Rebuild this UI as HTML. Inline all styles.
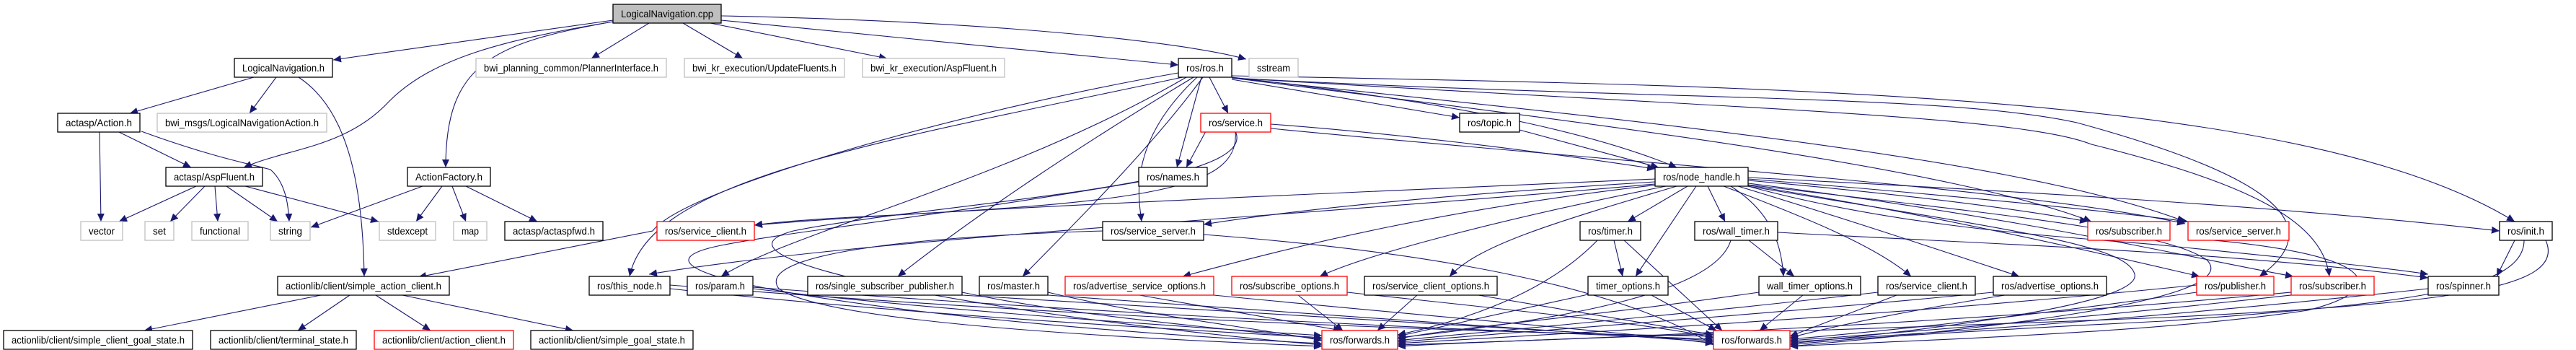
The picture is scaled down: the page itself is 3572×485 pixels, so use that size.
<!DOCTYPE html>
<html><head><meta charset="utf-8"><style>
html,body{margin:0;padding:0;background:#fff;}
svg{display:block;}
text{font-family:"Liberation Sans",sans-serif;font-size:14px;fill:#000;}
.n{fill:#fff;stroke:#000;stroke-width:1.3;}
.g{fill:#fff;stroke:#bfbfbf;stroke-width:1.3;}
.r{fill:#fff;stroke:#ff0000;stroke-width:1.3;}
.e{fill:none;stroke:#191970;stroke-width:1.1;}
</style></head><body>
<svg width="3572" height="485" viewBox="0 0 3572 485" xmlns="http://www.w3.org/2000/svg">
<defs><marker id="a" markerUnits="userSpaceOnUse" markerWidth="12" markerHeight="10" refX="11" refY="5" orient="auto"><path d="M0,0 L11,5 L0,10 z" fill="#191970"/></marker></defs>
<g class="edges" marker-end="url(#a)">
<!-- cpp edges -->
<path class="e" d="M850,28 L462,83"/>
<path class="e" d="M850,30 C700,55 600,80 540,140 C480,205 400,205 338,232"/>
<path class="e" d="M850,30 C680,60 618,90 618,232"/>
<path class="e" d="M900,32 L820,81"/>
<path class="e" d="M947,32 L1030,81"/>
<path class="e" d="M985,32 L1230,81"/>
<path class="e" d="M1000,28 L1634,90"/>
<path class="e" d="M1000,22 C1400,30 1650,60 1728,82"/>
<!-- LogicalNavigation.h -->
<path class="e" d="M352,107 L180,157"/>
<path class="e" d="M383,107 L346,157"/>
<path class="e" d="M414,107 C480,150 503,250 505,383"/>
<!-- Action.h -->
<path class="e" d="M138,182 L140,307"/>
<path class="e" d="M163,182 L265,232"/>
<path class="e" d="M196,182 C300,220 360,230 375,235 C398,255 400,290 401,307"/>
<!-- AspFluent -->
<path class="e" d="M272,258 L165,307"/>
<path class="e" d="M284,258 L236,307"/>
<path class="e" d="M298,258 L302,307"/>
<path class="e" d="M314,258 L385,307"/>
<path class="e" d="M340,258 L525,307"/>
<!-- ActionFactory -->
<path class="e" d="M586,258 L431,315"/>
<path class="e" d="M613,258 L577,307"/>
<path class="e" d="M627,258 L646,307"/>
<path class="e" d="M646,258 L745,307"/>
<!-- simple_action_client -->
<path class="e" d="M445,409 L200,458"/>
<path class="e" d="M485,409 L413,458"/>
<path class="e" d="M521,409 L597,458"/>
<path class="e" d="M558,409 L795,458"/>
<!-- ros.h -->
<path class="e" d="M1634,101 C1350,150 950,260 905,320 L580,384"/>
<path class="e" d="M1640,107 C1200,200 900,250 873,383"/>
<path class="e" d="M1645,107 C1400,250 1100,320 1000,383"/>
<path class="e" d="M1655,107 C1500,200 1350,300 1245,383"/>
<path class="e" d="M1668,107 C1600,200 1500,300 1418,383"/>
<path class="e" d="M1660,107 C1560,200 1580,280 1583,307"/>
<path class="e" d="M1666,107 L1632,232"/>
<path class="e" d="M1677,107 L1703,157"/>
<path class="e" d="M1708,110 L2024,163"/>
<path class="e" d="M1708,107 C2000,140 2200,180 2325,232"/>
<path class="e" d="M1708,105 C2500,120 3200,130 3487,307"/>
<path class="e" d="M1708,108 C2200,170 2700,230 2900,307"/>
<path class="e" d="M1708,108 C2300,170 2800,220 3030,307"/>
<path class="e" d="M1708,108 C2300,140 2700,130 2880,170 C3100,230 3250,300 3133,383"/>
<path class="e" d="M1708,108 C2400,150 2800,160 2900,200 C3100,250 3220,300 3230,383"/>
<!-- service.h -->
<path class="e" d="M1672,182 L1645,232"/>
<path class="e" d="M1713,182 C1720,260 1600,280 1200,300 C1100,305 1060,310 1046,312"/>
<path class="e" d="M1762,172 C2000,190 2200,220 2295,234"/>
<path class="e" d="M1762,178 C2300,230 2800,260 3030,310"/>
<!-- topic -->
<path class="e" d="M2107,180 L2300,232"/>
<!-- node_handle -->
<path class="e" d="M2295,248 C1800,270 1300,290 1046,312"/>
<path class="e" d="M2295,252 C2000,270 1800,290 1669,311"/>
<path class="e" d="M2340,258 L2257,307"/>
<path class="e" d="M2368,258 L2392,307"/>
<path class="e" d="M2352,258 L2268,383"/>
<path class="e" d="M2400,258 C2450,290 2470,330 2473,383"/>
<path class="e" d="M2325,258 C2150,310 2050,340 2010,383"/>
<path class="e" d="M2310,258 C2100,300 1900,350 1830,383"/>
<path class="e" d="M2300,256 C2000,290 1800,340 1640,383"/>
<path class="e" d="M2390,258 C2500,300 2600,340 2650,383"/>
<path class="e" d="M2410,258 C2550,300 2700,350 2800,383"/>
<path class="e" d="M2420,256 C2700,300 2950,360 3050,383"/>
<path class="e" d="M2424,254 C2800,300 3050,360 3180,383"/>
<path class="e" d="M2424,250 C2650,270 2800,290 2895,307"/>
<path class="e" d="M2424,248 C2700,270 2900,290 3034,307"/>
<path class="e" d="M2424,246 C2900,270 3200,290 3466,320"/>
<path class="e" d="M2424,258 C2650,320 2900,330 3000,340 C3200,360 3300,370 3367,380"/>
<path class="e" d="M2295,255 C1800,300 1200,330 900,380"/>
<!-- init -->
<path class="e" d="M3487,333 L3462,383"/>
<!-- timer / wall timer -->
<path class="e" d="M2238,333 L2250,383"/>
<path class="e" d="M2252,333 L2388,458"/>
<path class="e" d="M2215,333 C2150,400 2050,440 1938,464"/>
<path class="e" d="M2425,333 L2488,383"/>
<path class="e" d="M2400,333 C2380,400 2200,440 1938,468"/>
<path class="e" d="M2465,322 C2800,340 3100,350 3367,385"/>
<!-- to forwards A (1833-1938) -->
<path class="e" d="M929,400 C1300,440 1700,460 1833,468"/>
<path class="e" d="M1044,400 C1300,430 1600,450 1833,465"/>
<path class="e" d="M1334,405 C1500,440 1700,455 1833,470"/>
<path class="e" d="M1453,405 C1600,440 1750,455 1833,472"/>
<path class="e" d="M1580,409 L1860,458"/>
<path class="e" d="M1800,409 L1862,458"/>
<path class="e" d="M1965,409 L1910,458"/>
<path class="e" d="M2202,408 L1938,466"/>
<path class="e" d="M2439,405 C2200,440 2000,455 1938,470"/>
<path class="e" d="M2604,405 C2300,440 2050,460 1938,472"/>
<path class="e" d="M2764,405 C2400,440 2100,460 1938,474"/>
<path class="e" d="M3046,395 C2600,440 2200,460 1938,476"/>
<path class="e" d="M3177,405 C2700,450 2200,470 1938,478"/>
<path class="e" d="M3530,333 C3560,400 3400,420 3000,440 C2500,460 2100,470 1938,480"/>
<path class="e" d="M1579,252 C1300,300 1100,320 1000,340 C800,380 1300,450 1833,476"/>
<path class="e" d="M1713,182 C1750,260 1300,280 1100,320 C950,360 1400,440 1833,478"/>
<path class="e" d="M1529,320 C1200,330 1050,360 1080,400 C1150,450 1600,470 1833,480"/>
<!-- to forwards B (2376-2482) -->
<path class="e" d="M929,395 C1500,440 2000,460 2376,466"/>
<path class="e" d="M1044,398 C1600,440 2100,460 2376,470"/>
<path class="e" d="M1334,409 C1800,440 2200,460 2376,472"/>
<path class="e" d="M1453,409 C1900,440 2200,460 2376,474"/>
<path class="e" d="M1683,409 C2000,440 2250,460 2376,476"/>
<path class="e" d="M1868,405 C2100,430 2300,450 2376,468"/>
<path class="e" d="M2050,409 L2376,464"/>
<path class="e" d="M2290,409 L2380,458"/>
<path class="e" d="M2500,409 L2440,458"/>
<path class="e" d="M2630,409 L2482,466"/>
<path class="e" d="M2780,409 C2650,430 2550,450 2482,468"/>
<path class="e" d="M3046,405 C2800,440 2600,460 2482,470"/>
<path class="e" d="M3177,409 C2900,440 2650,460 2482,472"/>
<path class="e" d="M3367,400 C3000,440 2700,460 2482,474"/>
<path class="e" d="M3500,333 C3500,400 3350,420 3000,445 C2700,460 2550,470 2482,478"/>
<path class="e" d="M1669,325 C2000,350 2250,400 2376,478"/>
<path class="e" d="M2424,256 C2800,300 3000,320 3060,360 C3120,420 2700,460 2482,480"/>
<path class="e" d="M2424,258 C2800,320 2950,340 2960,380 C2970,420 2700,455 2482,476"/>
<path class="e" d="M3034,330 C3300,350 3320,400 3200,430 C3000,460 2700,470 2482,480"/>
</g>
<!-- nodes -->
<g>
<rect x="850" y="6" width="150" height="26" fill="#bfbfbf" stroke="#000" stroke-width="1.3"/>
<text x="861" y="24" textLength="128" lengthAdjust="spacingAndGlyphs">LogicalNavigation.cpp</text>

<rect class="n" x="325" y="81" width="136" height="26"/><text x="336" y="99" textLength="114" lengthAdjust="spacingAndGlyphs">LogicalNavigation.h</text>
<rect class="g" x="660" y="81" width="264" height="26"/><text x="671" y="99" textLength="242" lengthAdjust="spacingAndGlyphs">bwi_planning_common/PlannerInterface.h</text>
<rect class="g" x="949" y="81" width="222" height="26"/><text x="960" y="99" textLength="200" lengthAdjust="spacingAndGlyphs">bwi_kr_execution/UpdateFluents.h</text>
<rect class="g" x="1196" y="81" width="197" height="26"/><text x="1207" y="99" textLength="175" lengthAdjust="spacingAndGlyphs">bwi_kr_execution/AspFluent.h</text>
<rect class="n" x="1634" y="81" width="74" height="26"/><text x="1645" y="99" textLength="52" lengthAdjust="spacingAndGlyphs">ros/ros.h</text>
<rect class="g" x="1732" y="81" width="68" height="26"/><text x="1743" y="99" textLength="46" lengthAdjust="spacingAndGlyphs">sstream</text>

<rect class="n" x="80" y="157" width="114" height="26"/><text x="91" y="175" textLength="92" lengthAdjust="spacingAndGlyphs">actasp/Action.h</text>
<rect class="g" x="218" y="157" width="235" height="26"/><text x="229" y="175" textLength="213" lengthAdjust="spacingAndGlyphs">bwi_msgs/LogicalNavigationAction.h</text>
<rect class="r" x="1665" y="157" width="97" height="26"/><text x="1676" y="175" textLength="75" lengthAdjust="spacingAndGlyphs">ros/service.h</text>
<rect class="n" x="2024" y="157" width="83" height="26"/><text x="2035" y="175" textLength="61" lengthAdjust="spacingAndGlyphs">ros/topic.h</text>

<rect class="n" x="230" y="232" width="134" height="26"/><text x="241" y="250" textLength="112" lengthAdjust="spacingAndGlyphs">actasp/AspFluent.h</text>
<rect class="n" x="565" y="232" width="115" height="26"/><text x="576" y="250" textLength="93" lengthAdjust="spacingAndGlyphs">ActionFactory.h</text>
<rect class="n" x="1579" y="232" width="95" height="26"/><text x="1590" y="250" textLength="73" lengthAdjust="spacingAndGlyphs">ros/names.h</text>
<rect class="n" x="2295" y="232" width="129" height="26"/><text x="2306" y="250" textLength="107" lengthAdjust="spacingAndGlyphs">ros/node_handle.h</text>

<rect class="g" x="112" y="307" width="58" height="26"/><text x="123" y="325" textLength="36" lengthAdjust="spacingAndGlyphs">vector</text>
<rect class="g" x="201" y="307" width="40" height="26"/><text x="212" y="325" textLength="18" lengthAdjust="spacingAndGlyphs">set</text>
<rect class="g" x="266" y="307" width="78" height="26"/><text x="277" y="325" textLength="56" lengthAdjust="spacingAndGlyphs">functional</text>
<rect class="g" x="375" y="307" width="55" height="26"/><text x="386" y="325" textLength="33" lengthAdjust="spacingAndGlyphs">string</text>
<rect class="g" x="526" y="307" width="78" height="26"/><text x="537" y="325" textLength="56" lengthAdjust="spacingAndGlyphs">stdexcept</text>
<rect class="g" x="629" y="307" width="46" height="26"/><text x="640" y="325" textLength="24" lengthAdjust="spacingAndGlyphs">map</text>
<rect class="n" x="700" y="307" width="136" height="26"/><text x="711" y="325" textLength="114" lengthAdjust="spacingAndGlyphs">actasp/actaspfwd.h</text>
<rect class="r" x="911" y="307" width="135" height="26"/><text x="922" y="325" textLength="113" lengthAdjust="spacingAndGlyphs">ros/service_client.h</text>
<rect class="n" x="1529" y="307" width="140" height="26"/><text x="1540" y="325" textLength="118" lengthAdjust="spacingAndGlyphs">ros/service_server.h</text>
<rect class="n" x="2191" y="307" width="84" height="26"/><text x="2202" y="325" textLength="62" lengthAdjust="spacingAndGlyphs">ros/timer.h</text>
<rect class="n" x="2350" y="307" width="115" height="26"/><text x="2361" y="325" textLength="93" lengthAdjust="spacingAndGlyphs">ros/wall_timer.h</text>
<rect class="r" x="2895" y="307" width="114" height="26"/><text x="2906" y="325" textLength="92" lengthAdjust="spacingAndGlyphs">ros/subscriber.h</text>
<rect class="r" x="3034" y="307" width="140" height="26"/><text x="3045" y="325" textLength="118" lengthAdjust="spacingAndGlyphs">ros/service_server.h</text>
<rect class="n" x="3466" y="307" width="73" height="26"/><text x="3477" y="325" textLength="51" lengthAdjust="spacingAndGlyphs">ros/init.h</text>

<rect class="n" x="385" y="383" width="238" height="26"/><text x="396" y="401" textLength="216" lengthAdjust="spacingAndGlyphs">actionlib/client/simple_action_client.h</text>
<rect class="n" x="817" y="383" width="112" height="26"/><text x="828" y="401" textLength="90" lengthAdjust="spacingAndGlyphs">ros/this_node.h</text>
<rect class="n" x="953" y="383" width="91" height="26"/><text x="964" y="401" textLength="69" lengthAdjust="spacingAndGlyphs">ros/param.h</text>
<rect class="n" x="1120" y="383" width="214" height="26"/><text x="1131" y="401" textLength="192" lengthAdjust="spacingAndGlyphs">ros/single_subscriber_publisher.h</text>
<rect class="n" x="1358" y="383" width="95" height="26"/><text x="1369" y="401" textLength="73" lengthAdjust="spacingAndGlyphs">ros/master.h</text>
<rect class="r" x="1477" y="383" width="206" height="26"/><text x="1488" y="401" textLength="184" lengthAdjust="spacingAndGlyphs">ros/advertise_service_options.h</text>
<rect class="r" x="1708" y="383" width="160" height="26"/><text x="1719" y="401" textLength="138" lengthAdjust="spacingAndGlyphs">ros/subscribe_options.h</text>
<rect class="n" x="1892" y="383" width="184" height="26"/><text x="1903" y="401" textLength="162" lengthAdjust="spacingAndGlyphs">ros/service_client_options.h</text>
<rect class="n" x="2202" y="383" width="111" height="26"/><text x="2213" y="401" textLength="89" lengthAdjust="spacingAndGlyphs">timer_options.h</text>
<rect class="n" x="2439" y="383" width="141" height="26"/><text x="2450" y="401" textLength="119" lengthAdjust="spacingAndGlyphs">wall_timer_options.h</text>
<rect class="n" x="2604" y="383" width="135" height="26"/><text x="2615" y="401" textLength="113" lengthAdjust="spacingAndGlyphs">ros/service_client.h</text>
<rect class="n" x="2764" y="383" width="157" height="26"/><text x="2775" y="401" textLength="135" lengthAdjust="spacingAndGlyphs">ros/advertise_options.h</text>
<rect class="r" x="3046" y="383" width="107" height="26"/><text x="3057" y="401" textLength="85" lengthAdjust="spacingAndGlyphs">ros/publisher.h</text>
<rect class="r" x="3177" y="383" width="115" height="26"/><text x="3188" y="401" textLength="93" lengthAdjust="spacingAndGlyphs">ros/subscriber.h</text>
<rect class="n" x="3367" y="383" width="98" height="26"/><text x="3378" y="401" textLength="76" lengthAdjust="spacingAndGlyphs">ros/spinner.h</text>

<rect class="n" x="5" y="458" width="262" height="26"/><text x="16" y="476" textLength="240" lengthAdjust="spacingAndGlyphs">actionlib/client/simple_client_goal_state.h</text>
<rect class="n" x="292" y="458" width="202" height="26"/><text x="303" y="476" textLength="180" lengthAdjust="spacingAndGlyphs">actionlib/client/terminal_state.h</text>
<rect class="r" x="519" y="458" width="193" height="26"/><text x="530" y="476" textLength="171" lengthAdjust="spacingAndGlyphs">actionlib/client/action_client.h</text>
<rect class="n" x="736" y="458" width="225" height="26"/><text x="747" y="476" textLength="203" lengthAdjust="spacingAndGlyphs">actionlib/client/simple_goal_state.h</text>
<rect class="r" x="1833" y="458" width="105" height="26"/><text x="1844" y="476" textLength="83" lengthAdjust="spacingAndGlyphs">ros/forwards.h</text>
<rect class="r" x="2376" y="458" width="106" height="26"/><text x="2387" y="476" textLength="84" lengthAdjust="spacingAndGlyphs">ros/forwards.h</text>
</g>
</svg>
</body></html>
